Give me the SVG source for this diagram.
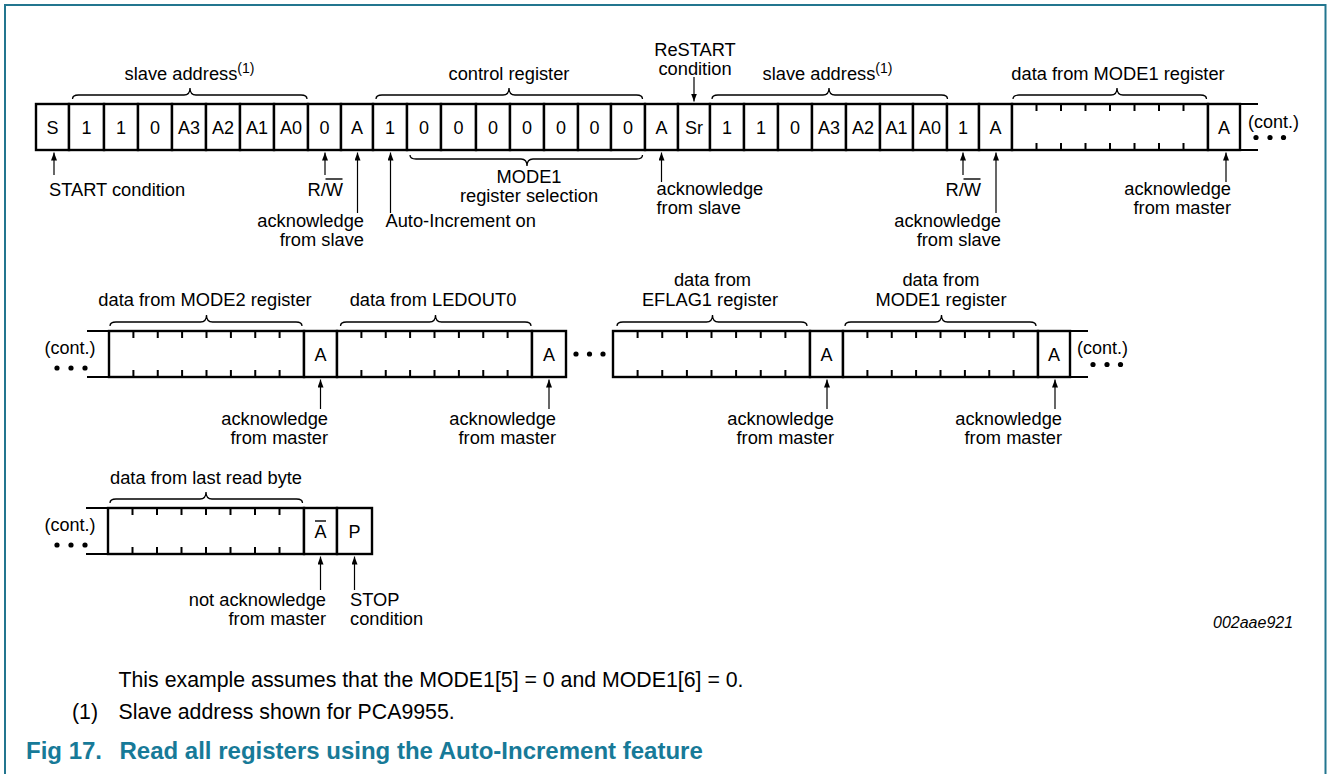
<svg xmlns="http://www.w3.org/2000/svg" width="1328" height="774" viewBox="0 0 1328 774">
<style>
.c{fill:#fff;stroke:#000;stroke-width:2.4}
.t{font-family:"Liberation Sans",Arial,sans-serif;font-size:18px;fill:#000}
.m{text-anchor:middle}
.e{text-anchor:end}
.l{font-family:"Liberation Sans",Arial,sans-serif;font-size:18.3px;fill:#000}
.tk{stroke:#000;stroke-width:2;fill:none}
.br{stroke:#000;stroke-width:1.3;fill:none}
.ar{stroke:#000;stroke-width:1.2;fill:none;marker-end:url(#ah)}
.ov{stroke:#000;stroke-width:1.4}
.cap{font-family:"Liberation Sans",Arial,sans-serif;font-size:21.3px;fill:#000}
.fig{font-family:"Liberation Sans",Arial,sans-serif;font-size:24px;font-weight:bold;fill:#177a98}
</style>
<defs>
<marker id="ah" markerUnits="userSpaceOnUse" markerWidth="8" markerHeight="6" refX="8" refY="3" orient="auto">
<path d="M0,0 L8,3 L0,6 z" fill="#000"/>
</marker>
</defs>
<rect width="1328" height="774" fill="#fff"/>
<path d="M5,774 V5 H1325.5 V774" fill="none" stroke="#23768f" stroke-width="2"/>

<!-- Row 1 -->
<g id="row1">
<g id="r1-S"><rect class="c" x="36" y="104" width="33" height="46"/><text class="t m" x="52.5" y="134">S</text></g>
<g id="r1-b6"><rect class="c" x="69" y="104" width="35" height="46"/><text class="t m" x="86.5" y="134">1</text></g>
<g id="r1-b5"><rect class="c" x="104" y="104" width="34" height="46"/><text class="t m" x="121" y="134">1</text></g>
<g id="r1-b4"><rect class="c" x="138" y="104" width="34" height="46"/><text class="t m" x="155" y="134">0</text></g>
<g id="r1-A3"><rect class="c" x="172" y="104" width="34" height="46"/><text class="t m" x="189" y="134">A3</text></g>
<g id="r1-A2"><rect class="c" x="206" y="104" width="34" height="46"/><text class="t m" x="223" y="134">A2</text></g>
<g id="r1-A1"><rect class="c" x="240" y="104" width="34" height="46"/><text class="t m" x="257" y="134">A1</text></g>
<g id="r1-A0"><rect class="c" x="274" y="104" width="34" height="46"/><text class="t m" x="291" y="134">A0</text></g>
<g id="r1-RW"><rect class="c" x="308" y="104" width="33" height="46"/><text class="t m" x="324.5" y="134">0</text></g>
<g id="r1-Ack1"><rect class="c" x="341" y="104" width="32" height="46"/><text class="t m" x="357" y="134">A</text></g>
<g id="r1-c7"><rect class="c" x="373" y="104" width="34" height="46"/><text class="t m" x="390" y="134">1</text></g>
<g id="r1-c6"><rect class="c" x="407" y="104" width="34" height="46"/><text class="t m" x="424" y="134">0</text></g>
<g id="r1-c5"><rect class="c" x="441" y="104" width="35" height="46"/><text class="t m" x="458.5" y="134">0</text></g>
<g id="r1-c4"><rect class="c" x="476" y="104" width="34" height="46"/><text class="t m" x="493" y="134">0</text></g>
<g id="r1-c3"><rect class="c" x="510" y="104" width="34" height="46"/><text class="t m" x="527" y="134">0</text></g>
<g id="r1-c2"><rect class="c" x="544" y="104" width="34" height="46"/><text class="t m" x="561" y="134">0</text></g>
<g id="r1-c1"><rect class="c" x="578" y="104" width="33" height="46"/><text class="t m" x="594.5" y="134">0</text></g>
<g id="r1-c0"><rect class="c" x="611" y="104" width="34" height="46"/><text class="t m" x="628" y="134">0</text></g>
<g id="r1-Ack2"><rect class="c" x="645" y="104" width="33" height="46"/><text class="t m" x="661.5" y="134">A</text></g>
<g id="r1-Sr"><rect class="c" x="678" y="104" width="32" height="46"/><text class="t m" x="694" y="134">Sr</text></g>
<g id="r1-d6"><rect class="c" x="710" y="104" width="34" height="46"/><text class="t m" x="727" y="134">1</text></g>
<g id="r1-d5"><rect class="c" x="744" y="104" width="34" height="46"/><text class="t m" x="761" y="134">1</text></g>
<g id="r1-d4"><rect class="c" x="778" y="104" width="34" height="46"/><text class="t m" x="795" y="134">0</text></g>
<g id="r1-dA3"><rect class="c" x="812" y="104" width="34" height="46"/><text class="t m" x="829" y="134">A3</text></g>
<g id="r1-dA2"><rect class="c" x="846" y="104" width="34" height="46"/><text class="t m" x="863" y="134">A2</text></g>
<g id="r1-dA1"><rect class="c" x="880" y="104" width="33" height="46"/><text class="t m" x="896.5" y="134">A1</text></g>
<g id="r1-dA0"><rect class="c" x="913" y="104" width="34" height="46"/><text class="t m" x="930" y="134">A0</text></g>
<g id="r1-RW2"><rect class="c" x="947" y="104" width="32" height="46"/><text class="t m" x="963" y="134">1</text></g>
<g id="r1-Ack3"><rect class="c" x="979" y="104" width="33" height="46"/><text class="t m" x="995.5" y="134">A</text></g>
<g id="r1-data"><rect class="c" x="1012" y="104" width="196" height="46"/>
<path class="tk" d="M1036.5,104v7M1061,104v7M1085.5,104v7M1110,104v7M1134.5,104v7M1159,104v7M1183.5,104v7M1036.5,150v-7M1061,150v-7M1085.5,150v-7M1110,150v-7M1134.5,150v-7M1159,150v-7M1183.5,150v-7"/></g>
<g id="r1-Ack4"><rect class="c" x="1208" y="104" width="32" height="46"/><text class="t m" x="1224" y="134">A</text></g>
<g id="r1-cont"><path class="tk" d="M1240,104H1258M1240,150H1258" stroke-width="2.4"/>
<text class="t" x="1248" y="128" font-size="17">(cont.)</text>
<circle cx="1256" cy="137.5" r="2.6"/><circle cx="1270" cy="137.5" r="2.6"/><circle cx="1283.5" cy="137.5" r="2.6"/></g>
</g>

<!-- Row 2 -->
<g id="row2">
<g id="r2-contL"><path class="tk" d="M87,331H109M87,377H109" stroke-width="2.4"/>
<text class="t m" x="70" y="354" font-size="17">(cont.)</text>
<circle cx="57" cy="368" r="2.6"/><circle cx="71" cy="368" r="2.6"/><circle cx="85" cy="368" r="2.6"/></g>
<g id="r2-mode2"><rect class="c" x="109" y="331" width="195" height="46"/>
<path class="tk" d="M133.4,331v7M157.75,331v7M182.1,331v7M206.5,331v7M230.9,331v7M255.25,331v7M279.6,331v7M133.4,377v-7M157.75,377v-7M182.1,377v-7M206.5,377v-7M230.9,377v-7M255.25,377v-7M279.6,377v-7"/></g>
<g id="r2-Ack1"><rect class="c" x="304" y="331" width="33" height="46"/><text class="t m" x="320.5" y="361">A</text></g>
<g id="r2-ledout0"><rect class="c" x="337" y="331" width="195" height="46"/>
<path class="tk" d="M361.4,331v7M385.75,331v7M410.1,331v7M434.5,331v7M458.9,331v7M483.25,331v7M507.6,331v7M361.4,377v-7M385.75,377v-7M410.1,377v-7M434.5,377v-7M458.9,377v-7M483.25,377v-7M507.6,377v-7"/></g>
<g id="r2-Ack2"><rect class="c" x="532" y="331" width="34" height="46"/><text class="t m" x="549" y="361">A</text></g>
<g id="r2-dots"><circle cx="576" cy="354" r="2.6"/><circle cx="589.5" cy="354" r="2.6"/><circle cx="603" cy="354" r="2.6"/></g>
<g id="r2-eflag1"><rect class="c" x="613" y="331" width="197" height="46"/>
<path class="tk" d="M637.6,331v7M662.25,331v7M686.9,331v7M711.5,331v7M736.1,331v7M760.75,331v7M785.4,331v7M637.6,377v-7M662.25,377v-7M686.9,377v-7M711.5,377v-7M736.1,377v-7M760.75,377v-7M785.4,377v-7"/></g>
<g id="r2-Ack3"><rect class="c" x="810" y="331" width="33" height="46"/><text class="t m" x="826.5" y="361">A</text></g>
<g id="r2-mode1"><rect class="c" x="843" y="331" width="195" height="46"/>
<path class="tk" d="M867.4,331v7M891.75,331v7M916.1,331v7M940.5,331v7M964.9,331v7M989.25,331v7M1013.6,331v7M867.4,377v-7M891.75,377v-7M916.1,377v-7M940.5,377v-7M964.9,377v-7M989.25,377v-7M1013.6,377v-7"/></g>
<g id="r2-Ack4"><rect class="c" x="1038" y="331" width="32" height="46"/><text class="t m" x="1054" y="361">A</text></g>
<g id="r2-contR"><path class="tk" d="M1070,331H1088M1070,377H1088" stroke-width="2.4"/>
<text class="t" x="1077" y="354" font-size="17">(cont.)</text>
<circle cx="1093" cy="364.5" r="2.6"/><circle cx="1107" cy="364.5" r="2.6"/><circle cx="1120.5" cy="364.5" r="2.6"/></g>
</g>

<!-- Row 3 -->
<g id="row3">
<g id="r3-contL"><path class="tk" d="M86,508H108M86,554H108" stroke-width="2.4"/>
<text class="t m" x="70" y="531" font-size="17">(cont.)</text>
<circle cx="57" cy="545" r="2.6"/><circle cx="71" cy="545" r="2.6"/><circle cx="85" cy="545" r="2.6"/></g>
<g id="r3-last"><rect class="c" x="108" y="508" width="196" height="46"/>
<path class="tk" d="M132.5,508v7M157,508v7M181.5,508v7M206,508v7M230.5,508v7M255,508v7M279.5,508v7M132.5,554v-7M157,554v-7M181.5,554v-7M206,554v-7M230.5,554v-7M255,554v-7M279.5,554v-7"/></g>
<g id="r3-NAck"><rect class="c" x="304" y="508" width="33" height="46"/><text class="t m" x="320.5" y="538">A</text><line class="ov" x1="315" y1="521" x2="326" y2="521"/></g>
<g id="r3-P"><rect class="c" x="337" y="508" width="35" height="46"/><text class="t m" x="354.5" y="538">P</text></g>
</g>

<!-- Braces and field labels -->
<g id="braces">
<path class="br" d="M72.5,99 Q72.5,95 78.5,95 H184 Q190,95 190,88 Q190,95 196,95 H301 Q307,95 307,99"/>
<path class="br" d="M376,99 Q376,95 382,95 H503 Q509,95 509,88 Q509,95 515,95 H636.5 Q642.5,95 642.5,99"/>
<path class="br" d="M712,99 Q712,95 718,95 H823 Q829,95 829,88 Q829,95 835,95 H941.5 Q947.5,95 947.5,99"/>
<path class="br" d="M1013,99 Q1013,95 1019,95 H1111 Q1117,95 1117,88 Q1117,95 1123,95 H1200.5 Q1206.5,95 1206.5,99"/>
<path class="br" d="M410,155 Q410,159 416,159 H521 Q527,159 527,166 Q527,159 533,159 H636.5 Q642.5,159 642.5,155"/>
<path class="br" d="M110,326 Q110,322 116,322 H200.5 Q206.5,322 206.5,315 Q206.5,322 212.5,322 H296 Q302,322 302,326"/>
<path class="br" d="M340.5,326 Q340.5,322 346.5,322 H429.5 Q435.5,322 435.5,315 Q435.5,322 441.5,322 H525 Q531,322 531,326"/>
<path class="br" d="M617,326 Q617,322 623,322 H706.5 Q712.5,322 712.5,315 Q712.5,322 718.5,322 H801 Q807,322 807,326"/>
<path class="br" d="M845,326 Q845,322 851,322 H935.5 Q941.5,322 941.5,315 Q941.5,322 947.5,322 H1030 Q1036,322 1036,326"/>
<path class="br" d="M110,503 Q110,499 116,499 H200 Q206,499 206,492 Q206,499 212,499 H296.5 Q302.5,499 302.5,503"/>
</g>
<g id="labels">
<text class="l m" x="189.5" y="80">slave address<tspan font-size="14" dy="-7">(1)</tspan></text>
<text class="l m" x="509" y="80">control register</text>
<text class="l m" x="695" y="56">ReSTART</text>
<text class="l m" x="695" y="74.5">condition</text>
<text class="l m" x="827.5" y="80">slave address<tspan font-size="14" dy="-7">(1)</tspan></text>
<text class="l m" x="1118" y="80">data from MODE1 register</text>
<text class="l m" x="529" y="183">MODE1</text>
<text class="l m" x="529" y="202">register selection</text>
<text class="l" x="49" y="196">START condition</text>
<text class="l" x="307.5" y="196">R/W</text><line class="ov" x1="325.5" y1="179" x2="342.5" y2="179"/>
<text class="l e" x="364" y="227">acknowledge</text>
<text class="l e" x="364" y="246">from slave</text>
<text class="l" x="385.5" y="227">Auto-Increment on</text>
<text class="l" x="656.5" y="195">acknowledge</text>
<text class="l" x="656.5" y="214">from slave</text>
<text class="l" x="945.5" y="196">R/W</text><line class="ov" x1="963.5" y1="179" x2="980.5" y2="179"/>
<text class="l e" x="1001" y="227">acknowledge</text>
<text class="l e" x="1001" y="246">from slave</text>
<text class="l e" x="1231" y="195">acknowledge</text>
<text class="l e" x="1231" y="214">from master</text>

<text class="l m" x="205" y="306">data from MODE2 register</text>
<text class="l m" x="433" y="306">data from LEDOUT0</text>
<text class="l m" x="712.5" y="286">data from</text>
<text class="l m" x="710" y="306">EFLAG1 register</text>
<text class="l m" x="941" y="286">data from</text>
<text class="l m" x="941" y="306">MODE1 register</text>
<text class="l e" x="328" y="425">acknowledge</text>
<text class="l e" x="328" y="444">from master</text>
<text class="l e" x="556" y="425">acknowledge</text>
<text class="l e" x="556" y="444">from master</text>
<text class="l e" x="834" y="425">acknowledge</text>
<text class="l e" x="834" y="444">from master</text>
<text class="l e" x="1062" y="425">acknowledge</text>
<text class="l e" x="1062" y="444">from master</text>

<text class="l m" x="206" y="484">data from last read byte</text>
<text class="l e" x="326" y="606">not acknowledge</text>
<text class="l e" x="326" y="625">from master</text>
<text class="l" x="350" y="606">STOP</text>
<text class="l" x="350" y="625">condition</text>

<text x="1213" y="628" font-family="Liberation Sans, Arial, sans-serif" font-size="16" font-style="italic">002aae921</text>
</g>

<g id="connectors">
<path class="ar" d="M54,175 V152.5"/>
<path class="ar" d="M325,175 V152.5"/>
<path class="ar" d="M357.5,213 V152.5"/>
<path class="ar" d="M390.5,213 V152.5"/>
<path class="ar" d="M661.5,182 V152.5"/>
<path class="ar" d="M694,77 V101.5"/>
<path class="ar" d="M963,175 V152.5"/>
<path class="ar" d="M996,213 V152.5"/>
<path class="ar" d="M1226,182 V152.5"/>
<path class="ar" d="M320.5,409 V379.5"/>
<path class="ar" d="M549,409 V379.5"/>
<path class="ar" d="M827,409 V379.5"/>
<path class="ar" d="M1055,409 V379.5"/>
<path class="ar" d="M320.5,590 V556.5"/>
<path class="ar" d="M354.5,590 V556.5"/>
</g>

<g id="captions">
<text class="cap" x="118.5" y="687">This example assumes that the MODE1[5] = 0 and MODE1[6] = 0.</text>
<text class="cap" x="72" y="719">(1)</text>
<text class="cap" x="118.5" y="719">Slave address shown for PCA9955.</text>
<text class="fig" x="26" y="759">Fig 17.</text>
<text class="fig" x="119.5" y="759">Read all registers using the Auto-Increment feature</text>
</g>
</svg>
